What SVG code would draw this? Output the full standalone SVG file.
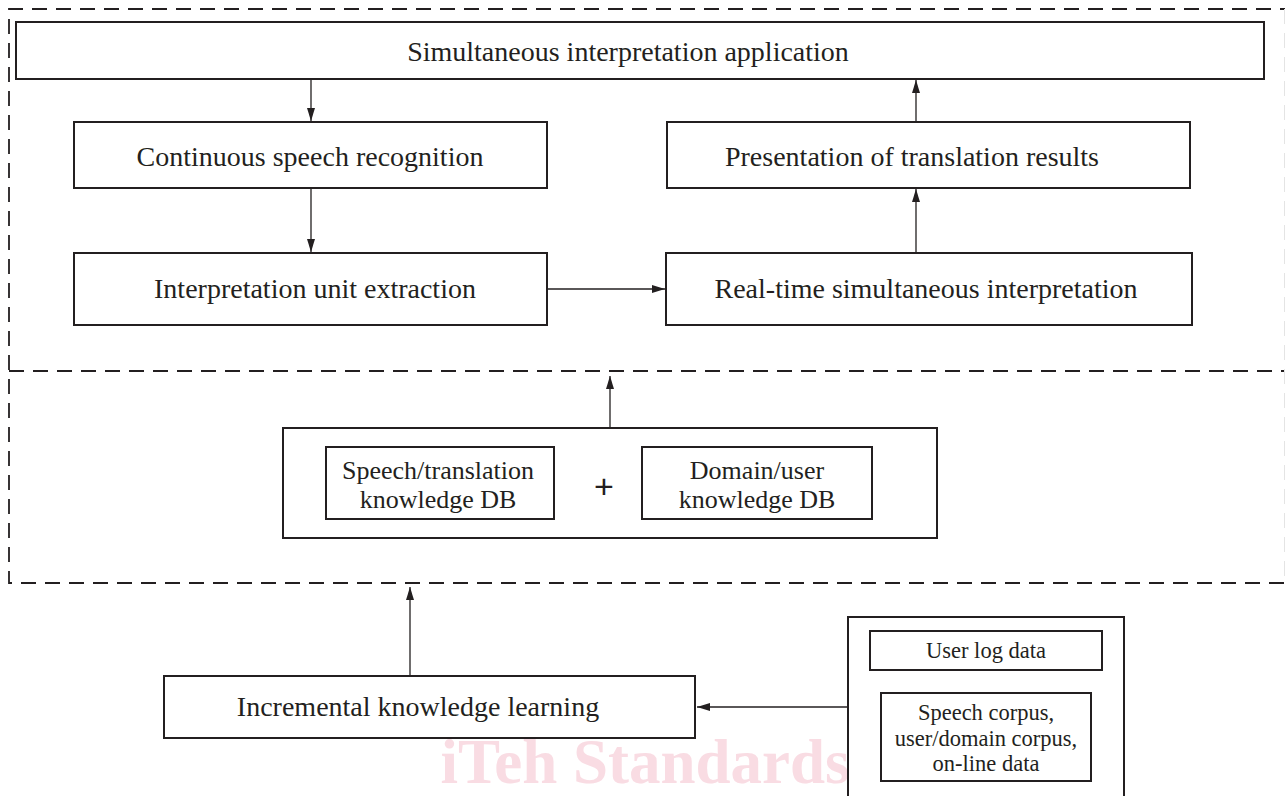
<svg xmlns="http://www.w3.org/2000/svg" width="1285" height="796" viewBox="0 0 1285 796">
<style>
.box{fill:#fff;stroke:#231f20;stroke-width:2}
.dash{fill:none;stroke:#231f20;stroke-width:1.8;stroke-dasharray:15 9}
.ln{fill:none;stroke:#231f20;stroke-width:1.3}
.t{font-family:"Liberation Serif","Times New Roman",serif;fill:#231f20;text-anchor:middle}
.big{font-size:28px}
.mid{font-size:26px}
.sm{font-size:22.5px}
.wm{font-family:"Liberation Serif","Times New Roman",serif;font-weight:bold;font-size:63px;fill:#f9dce3;text-anchor:middle}
</style>
<defs>
<marker id="ah" viewBox="0 0 13 8" refX="13" refY="4" markerWidth="13" markerHeight="8" markerUnits="userSpaceOnUse" orient="auto">
<path d="M0,0 L13,4 L0,8 Z" fill="#231f20"/>
</marker>
</defs>
<rect width="1285" height="796" fill="#fff"/>
<text class="wm" x="645" y="783">iTeh Standards</text>
<g id="frames">
<path class="dash" d="M1295,9 H9 V583 H1295"/>
<line class="dash" x1="9" y1="371" x2="1295" y2="371"/>
<line x1="1284.5" y1="9" x2="1284.5" y2="583" stroke="#e4e4e4" stroke-width="1" stroke-dasharray="15 9"/>
</g>
<g id="connectors">
<line class="ln" x1="311" y1="79" x2="311" y2="121" marker-end="url(#ah)"/>
<line class="ln" x1="311" y1="188" x2="311" y2="252" marker-end="url(#ah)"/>
<line class="ln" x1="547" y1="289" x2="665" y2="289" marker-end="url(#ah)"/>
<line class="ln" x1="916" y1="253" x2="916" y2="189" marker-end="url(#ah)"/>
<line class="ln" x1="916" y1="122" x2="916" y2="80" marker-end="url(#ah)"/>
<line class="ln" x1="610" y1="427" x2="610" y2="376" marker-end="url(#ah)"/>
<line class="ln" x1="410" y1="676" x2="410" y2="587" marker-end="url(#ah)"/>
<line class="ln" x1="848" y1="707" x2="697" y2="707" marker-end="url(#ah)"/>
</g>
<g id="app">
<rect class="box" x="16" y="22" width="1248" height="57"/>
<text class="t big" x="628" y="61">Simultaneous interpretation application</text>
</g>
<g id="csr">
<rect class="box" x="74" y="122" width="473" height="66"/>
<text class="t big" x="310" y="166">Continuous speech recognition</text>
</g>
<g id="iue">
<rect class="box" x="74" y="253" width="473" height="72"/>
<text class="t big" x="315" y="298">Interpretation unit extraction</text>
</g>
<g id="ptr">
<rect class="box" x="667" y="122" width="523" height="66"/>
<text class="t big" x="912" y="166">Presentation of translation results</text>
</g>
<g id="rtsi">
<rect class="box" x="666" y="253" width="526" height="72"/>
<text class="t big" x="926" y="298">Real-time simultaneous interpretation</text>
</g>
<g id="kdb">
<rect class="box" x="283" y="428" width="654" height="110"/>
<g id="stdb">
<rect class="box" x="326" y="447" width="228" height="72"/>
<text class="t mid" x="438" y="479">Speech/translation</text>
<text class="t mid" x="438" y="508">knowledge DB</text>
</g>
<text class="t" x="604" y="498" style="font-family:'Liberation Sans',Arial,sans-serif;font-size:34px">+</text>
<g id="dudb">
<rect class="box" x="642" y="447" width="230" height="72"/>
<text class="t mid" x="757" y="479">Domain/user</text>
<text class="t mid" x="757" y="508">knowledge DB</text>
</g>
</g>
<g id="ikl">
<rect class="box" x="164" y="676" width="531" height="62"/>
<text class="t big" x="418" y="716">Incremental knowledge learning</text>
</g>
<g id="data">
<rect class="box" x="848" y="617" width="276" height="190"/>
<g id="uld">
<rect class="box" x="870" y="631" width="232" height="39"/>
<text class="t sm" x="986" y="658">User log data</text>
</g>
<g id="corp">
<rect class="box" x="881" y="693" width="210" height="88"/>
<text class="t sm" x="986" y="720">Speech corpus,</text>
<text class="t sm" x="986" y="746">user/domain corpus,</text>
<text class="t sm" x="986" y="771">on-line data</text>
</g>
</g>
</svg>
